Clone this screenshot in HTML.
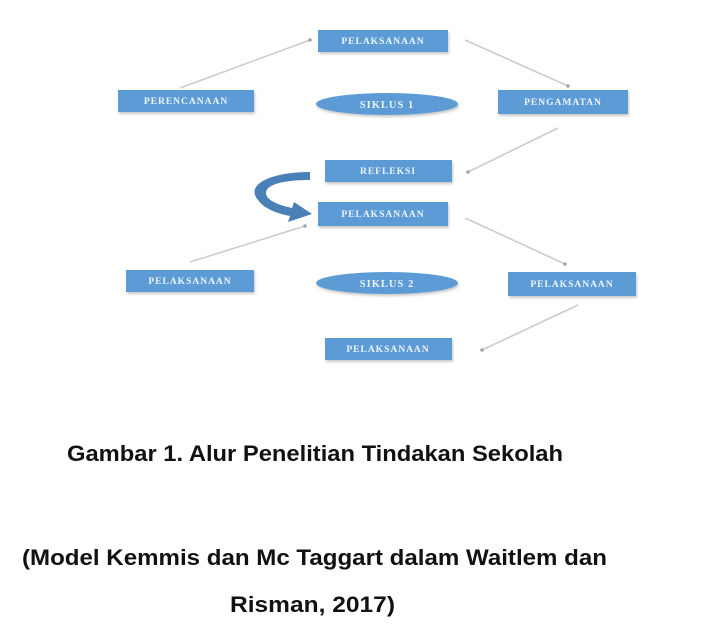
<!DOCTYPE html>
<html><head><meta charset="utf-8"><style>
html,body{margin:0;padding:0;background:#fff;width:720px;height:644px;overflow:hidden}
</style></head><body>
<svg width="720" height="644" viewBox="0 0 720 644" xmlns="http://www.w3.org/2000/svg">
<defs>
<filter id="sh" x="-10%" y="-20%" width="130%" height="160%"><feDropShadow dx="1" dy="2" stdDeviation="1.2" flood-color="#888" flood-opacity="0.45"/></filter>
</defs>
<g stroke="#c9ccd2" stroke-width="1.6" fill="none">
<line x1="180" y1="88" x2="310" y2="40"/>
<line x1="465" y1="40" x2="568" y2="86"/>
<line x1="558" y1="128" x2="468" y2="172"/>
<line x1="190" y1="262" x2="305" y2="226"/>
<line x1="465" y1="218" x2="565" y2="264"/>
<line x1="578" y1="305" x2="482" y2="350"/>
</g>
<g fill="#a0a4ab">
<circle cx="310" cy="40" r="1.8"/><circle cx="568" cy="86" r="1.8"/><circle cx="468" cy="172" r="1.8"/>
<circle cx="305" cy="226" r="1.8"/><circle cx="565" cy="264" r="1.8"/><circle cx="482" cy="350" r="1.8"/>
</g>
<path d="M310 172 C 270 172, 245 185, 258 200 C 265 210, 280 214, 290 216 L 288 222 L 312 214 L 294 202 L 292 208 C 278 205, 266 200, 266 193 C 266 184, 285 180, 310 180 Z" fill="#4a80b8"/>
<g filter="url(#sh)" fill="#5b9bd5">
<rect x="318" y="30" width="130" height="22"/>
<rect x="118" y="90" width="136" height="22"/>
<rect x="498" y="90" width="130" height="24"/>
<rect x="325" y="160" width="127" height="22"/>
<rect x="318" y="202" width="130" height="24"/>
<rect x="126" y="270" width="128" height="22"/>
<rect x="508" y="272" width="128" height="24"/>
<rect x="325" y="338" width="127" height="22"/>
<ellipse cx="387" cy="104" rx="71" ry="11"/>
<ellipse cx="387" cy="283" rx="71" ry="11"/>
</g>
<g fill="#eef4fb" font-family="Liberation Serif, serif" font-weight="bold" font-size="9.5" text-anchor="middle" letter-spacing="1">
<text x="383" y="44">PELAKSANAAN</text>
<text x="186" y="104">PERENCANAAN</text>
<text x="563" y="105">PENGAMATAN</text>
<text x="388" y="174">REFLEKSI</text>
<text x="383" y="217">PELAKSANAAN</text>
<text x="190" y="284">PELAKSANAAN</text>
<text x="572" y="287">PELAKSANAAN</text>
<text x="388" y="352">PELAKSANAAN</text>
<text x="387" y="108" font-size="10.5">SIKLUS 1</text>
<text x="387" y="287" font-size="10.5">SIKLUS 2</text>
</g>
<g font-family="Liberation Sans, sans-serif" font-size="22" fill="#111" font-weight="bold">
<text x="67" y="461" textLength="496" lengthAdjust="spacingAndGlyphs">Gambar 1. Alur Penelitian Tindakan Sekolah</text>
<text x="22" y="565" textLength="585" lengthAdjust="spacingAndGlyphs">(Model Kemmis dan Mc Taggart dalam Waitlem dan</text>
<text x="230" y="612" textLength="165" lengthAdjust="spacingAndGlyphs">Risman, 2017)</text>
</g>
</svg>
</body></html>
